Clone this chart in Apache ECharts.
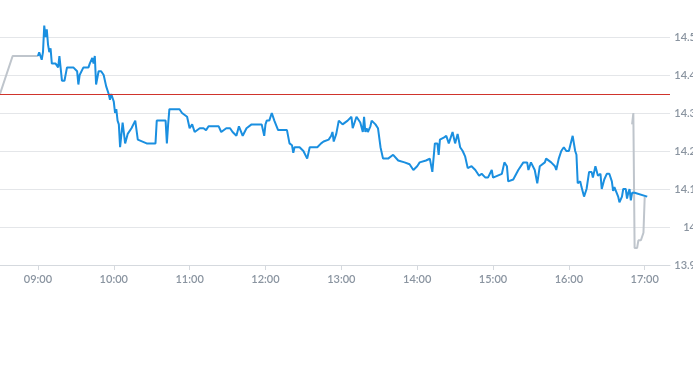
<!DOCTYPE html>
<html>
<head>
<meta charset="utf-8">
<script src="https://cdn.jsdelivr.net/npm/echarts@6/dist/echarts.min.js"></script>
<style>
html,body{margin:0;padding:0;background:#fff;}
#chart{width:693px;height:365px;}
</style>
</head>
<body>
<div id="chart"></div>
<script>
// Previous close
var prevClose = 14.35;

// Pre-market (gray)
var preTimes = ['08:30','08:40','09:00'];
var preValues = [14.35, 14.45, 14.45];

// Regular session (blue)
var mainTimes = [
'09:00','09:01','09:02','09:03','09:04','09:05','09:06','09:07','09:08','09:09',
'09:10','09:11','09:14','09:16','09:17','09:19','09:21','09:23','09:28','09:31',
'09:32','09:33','09:36','09:40','09:41','09:43','09:44','09:45','09:46','09:48',
'09:50','09:52','09:54','09:56','09:57','09:58','10:00','10:01','10:02','10:03',
'10:04','10:05','10:07','10:09','10:11','10:14','10:17','10:19','10:26','10:33',
'10:34','10:41','10:42','10:43','10:44','10:52','10:54','10:58','11:00','11:02',
'11:04','11:08','11:11','11:13','11:15','11:23','11:25','11:29','11:32','11:34',
'11:37','11:39','11:42','11:45','11:49','11:52','11:57','11:59','12:00','12:01',
'12:03','12:05','12:07','12:10','12:17','12:19','12:21','12:22','12:23','12:27',
'12:30','12:33','12:35','12:41','12:44','12:46','12:50','12:52','12:53','12:54',
'12:56','12:58','13:01','13:05','13:08','13:09','13:12','13:15','13:17','13:18',
'13:19','13:20','13:21','13:23','13:24','13:27','13:29','13:31','13:33','13:37',
'13:41','13:45','13:50','13:54','13:57','14:00','14:02','14:07','14:10','14:12',
'14:14','14:16','14:17','14:18','14:21','14:23','14:25','14:28','14:30','14:32',
'14:34','14:36','14:38','14:40','14:43','14:46','14:49','14:51','14:54','14:56',
'14:59','15:00','15:07','15:09','15:11','15:12','15:13','15:16','15:20','15:24',
'15:27','15:28','15:30','15:33','15:35','15:36','15:37','15:41','15:42','15:46',
'15:49','15:50','15:52','15:54','15:56','15:58','16:00','16:03','16:05','16:06',
'16:07','16:09','16:10','16:12','16:14','16:16','16:18','16:19','16:21','16:23',
'16:25','16:26','16:28','16:30','16:32','16:34','16:35','16:36','16:39','16:40',
'16:42','16:43','16:45','16:46','16:47','16:48','16:49','16:50','16:52','17:02'
];
var mainValues = [
14.45,14.46,14.465,14.44,14.46,14.53,14.50,14.52,14.48,14.46,
14.47,14.43,14.43,14.42,14.45,14.385,14.385,14.42,14.42,14.41,
14.375,14.40,14.42,14.42,14.43,14.445,14.43,14.45,14.375,14.41,
14.41,14.40,14.37,14.35,14.335,14.35,14.33,14.30,14.31,14.28,
14.27,14.21,14.275,14.22,14.245,14.26,14.28,14.23,14.22,14.22,
14.28,14.28,14.22,14.27,14.31,14.31,14.30,14.29,14.26,14.27,
14.25,14.26,14.26,14.255,14.265,14.265,14.25,14.26,14.26,14.25,
14.24,14.265,14.24,14.26,14.27,14.27,14.27,14.24,14.27,14.28,
14.28,14.30,14.28,14.255,14.255,14.22,14.215,14.195,14.21,14.21,
14.20,14.18,14.21,14.21,14.22,14.225,14.23,14.24,14.25,14.225,
14.245,14.28,14.27,14.28,14.29,14.26,14.29,14.275,14.25,14.29,
14.25,14.26,14.25,14.265,14.28,14.27,14.26,14.21,14.18,14.18,
14.19,14.175,14.17,14.165,14.15,14.16,14.17,14.175,14.18,14.145,
14.22,14.22,14.19,14.23,14.235,14.24,14.22,14.25,14.22,14.245,
14.21,14.20,14.185,14.155,14.16,14.15,14.135,14.14,14.13,14.13,
14.15,14.13,14.14,14.17,14.16,14.12,14.115,14.125,14.15,14.17,
14.17,14.15,14.17,14.15,14.115,14.11,14.16,14.17,14.18,14.17,
14.16,14.15,14.18,14.20,14.21,14.20,14.20,14.24,14.20,14.19,
14.115,14.12,14.105,14.08,14.10,14.145,14.145,14.13,14.16,14.135,
14.14,14.10,14.125,14.14,14.14,14.12,14.095,14.105,14.08,14.065,
14.08,14.10,14.10,14.075,14.09,14.10,14.07,14.09,14.09,14.08
];

// After-hours (gray)
var postTimes = ['16:50','16:51','16:52','16:54','16:55','16:57','16:59','17:00'];
var postValues = [14.27, 14.30, 13.945, 13.945, 13.965, 13.965, 13.985, 14.08];

// Axis ticks
var hourTicks = ['09:00','10:00','11:00','12:00','13:00','14:00','15:00','16:00','17:00'];
var xStart = '08:30', xEnd = '17:20';
var yMin = 13.9, yMax = 14.6, yStep = 0.1;

function toMin(t){ var p = t.split(':'); return (+p[0])*60 + (+p[1]); }
function fmt(m){ var h = Math.floor(m/60), mm = Math.round(m - h*60); return (h<10?'0':'')+h+':'+(mm<10?'0':'')+mm; }
function pairs(ts, vs){ return ts.map(function(t,i){ return [toMin(t), vs[i]]; }); }

var tickVals = hourTicks.map(toMin);

var chart = echarts.init(document.getElementById('chart'), null, {renderer:'canvas'});
chart.setOption({
  animation: false,
  backgroundColor: '#ffffff',
  grid: { left: 0, right: 23, top: -1, bottom: 100, containLabel: false, outerBoundsMode: 'none' },
  xAxis: {
    type: 'value',
    min: toMin(xStart), max: toMin(xEnd),
    axisLine: { show: true, lineStyle: { color: '#d5d9de', width: 1 } },
    axisTick: { show: true, customValues: tickVals, length: 5, lineStyle: { color: '#d5d9de' } },
    axisLabel: {
      customValues: tickVals,
      formatter: function(v){ return fmt(v); },
      color: '#8a94a0', fontSize: 11, fontWeight: 600, margin: 9,
      fontFamily: 'Lato, "Open Sans", sans-serif'
    },
    splitLine: { show: false }
  },
  yAxis: {
    type: 'value',
    position: 'right',
    min: yMin, max: yMax, interval: yStep,
    axisLine: { show: false },
    axisTick: { show: false },
    axisLabel: {
      showMaxLabel: false,
      align: 'right', margin: 26,
      color: '#8a94a0', fontSize: 11, fontWeight: 600,
      fontFamily: 'Lato, "Open Sans", sans-serif',
      formatter: function(v){ return String(+v.toFixed(1)); }
    },
    splitLine: { show: true, lineStyle: { color: '#e4e6e9', width: 1 } }
  },
  series: [
    {
      type: 'line', data: pairs(preTimes, preValues), symbol: 'none',
      lineStyle: { color: '#bfc5cc', width: 2 }, z: 2
    },
    {
      type: 'line', data: pairs(postTimes, postValues), symbol: 'none',
      lineStyle: { color: '#bfc5cc', width: 2 }, z: 2
    },
    {
      type: 'line', data: pairs(mainTimes, mainValues), symbol: 'none',
      lineStyle: { color: '#1a8fe0', width: 2 }, z: 3,
      markLine: {
        silent: true, symbol: ['none','none'], label: { show: false },
        lineStyle: { color: '#d0342c', width: 1, type: 'solid' },
        data: [{ yAxis: prevClose }]
      }
    }
  ]
});
</script>
</body>
</html>
